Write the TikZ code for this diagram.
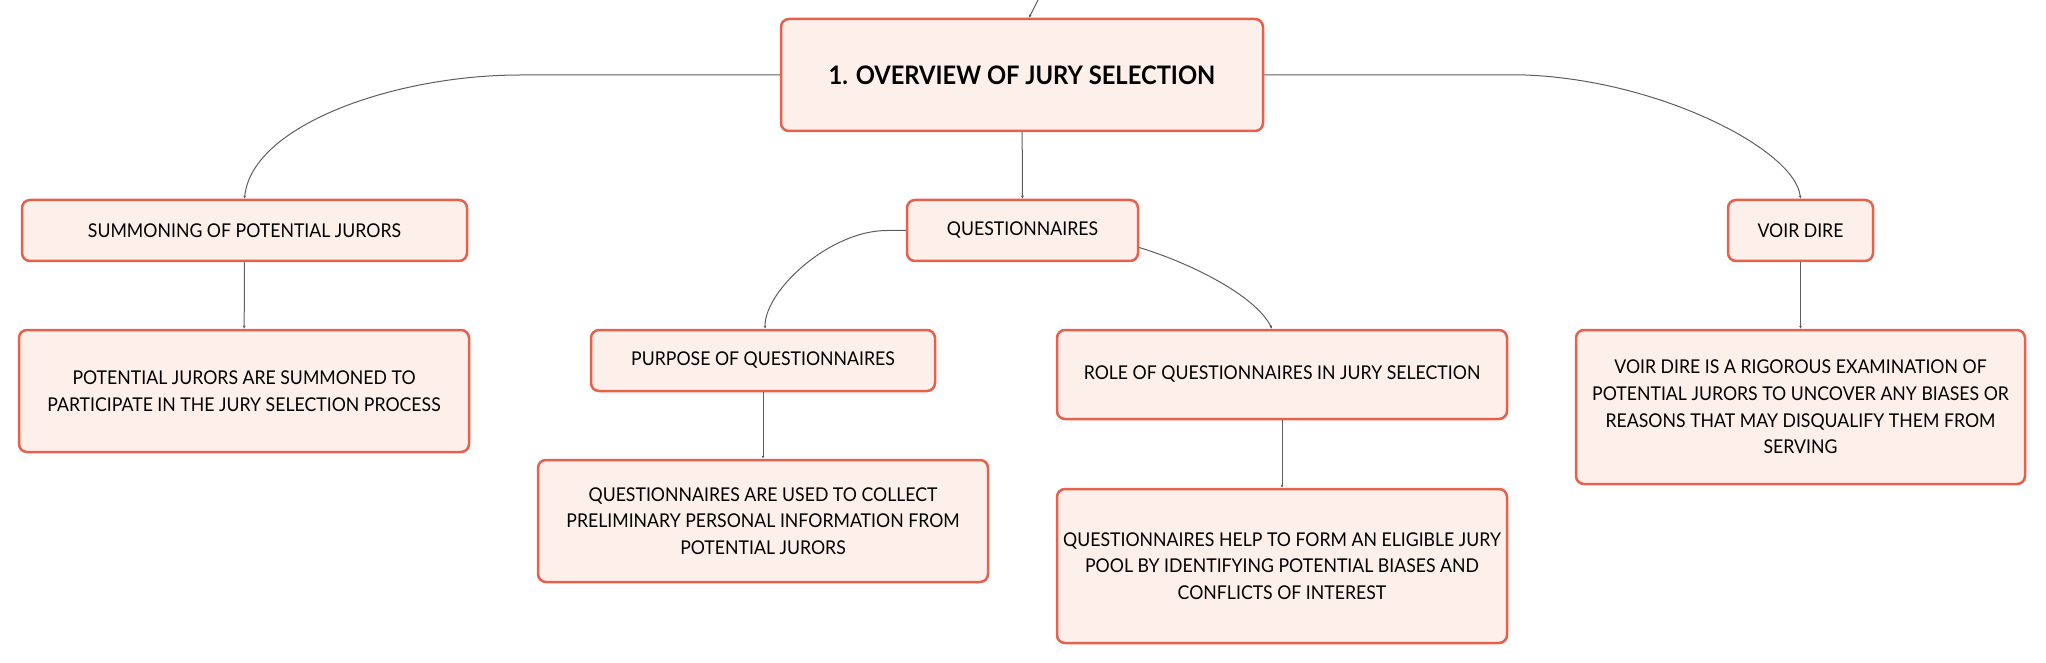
\documentclass[tikz,border=0pt]{standalone}
\usepackage{fontspec}
\setmainfont{Lato}[FakeStretch=0.93]
\usetikzlibrary{arrows.meta}
\definecolor{boxline}{HTML}{E8604C}
\definecolor{boxfill}{HTML}{FDF0EB}
\definecolor{linkgray}{HTML}{5E5E5E}
\tikzset{
  topic/.style={draw=boxline,fill=boxfill,line width=2.5pt,rounded corners=8pt,
    align=center,inner sep=0pt,font=\fontsize{19}{26.7}\selectfont},
  link/.style={draw=linkgray,line width=1pt,-{Latex[length=3pt,width=3pt]}}
}

\begin{document}
\begin{tikzpicture}[x=1pt,y=-1pt]
\useasboundingbox (0,0) rectangle (2046,663);

\node[topic,minimum width=482pt,minimum height=112pt,font=\fontsize{25.5}{28}\selectfont\bfseries] (main) at (1022,75) {1. OVERVIEW OF JURY SELECTION};

\node[topic,minimum width=445pt,minimum height=61pt] (summ) at (244.5,230.5) {SUMMONING OF POTENTIAL JURORS};
\node[topic,minimum width=450pt,minimum height=122pt] (sjur) at (244,391) {POTENTIAL JURORS ARE SUMMONED TO\\PARTICIPATE IN THE JURY SELECTION PROCESS};

\node[topic,minimum width=231pt,minimum height=61pt] (quest) at (1022.5,230.5) {QUESTIONNAIRES};
\node[topic,minimum width=344pt,minimum height=61pt] (purp) at (763,360.5) {PURPOSE OF QUESTIONNAIRES};
\node[topic,minimum width=450pt,minimum height=122pt] (qused) at (763,521) {QUESTIONNAIRES ARE USED TO COLLECT\\PRELIMINARY PERSONAL INFORMATION FROM\\POTENTIAL JURORS};
\node[topic,minimum width=450pt,minimum height=89pt] (role) at (1282,374.5) {ROLE OF QUESTIONNAIRES IN JURY SELECTION};
\node[topic,minimum width=450pt,minimum height=154pt] (qhelp) at (1282,566) {QUESTIONNAIRES HELP TO FORM AN ELIGIBLE JURY\\POOL BY IDENTIFYING POTENTIAL BIASES AND\\CONFLICTS OF INTEREST};

\node[topic,minimum width=145pt,minimum height=61pt] (voir) at (1800.5,230.5) {VOIR DIRE};
\node[topic,minimum width=449pt,minimum height=154pt] (vexam) at (1800.5,407) {VOIR DIRE IS A RIGOROUS EXAMINATION OF\\POTENTIAL JURORS TO UNCOVER ANY BIASES OR\\REASONS THAT MAY DISQUALIFY THEM FROM\\SERVING};

% links
\coordinate (up) at (1040,-4);
\draw[link] (up) .. controls (1034,8) .. ([xshift=7pt]main.north);
\draw[link] (main.west) -- (520,75) .. controls (395,75) and (252,125) .. (summ.north);
\draw[link] (main.east) -- (1525,75) .. controls (1660,80) and (1795,150) .. (voir.north);
\draw[link] (main) -- (quest);
\draw[link] (summ) -- (sjur);
\draw[link] (quest.west) -- (887,230.5) .. controls (830,230.5) and (765,290) .. ([xshift=2pt]purp.north);
\draw[link] ([yshift=-17pt]quest.east) .. controls (1190,263) and (1255,295) .. ([xshift=-10pt]role.north);
\draw[link] (purp) -- (qused);
\draw[link] (role) -- (qhelp);
\draw[link] (voir) -- (vexam);
\end{tikzpicture}
\end{document}
